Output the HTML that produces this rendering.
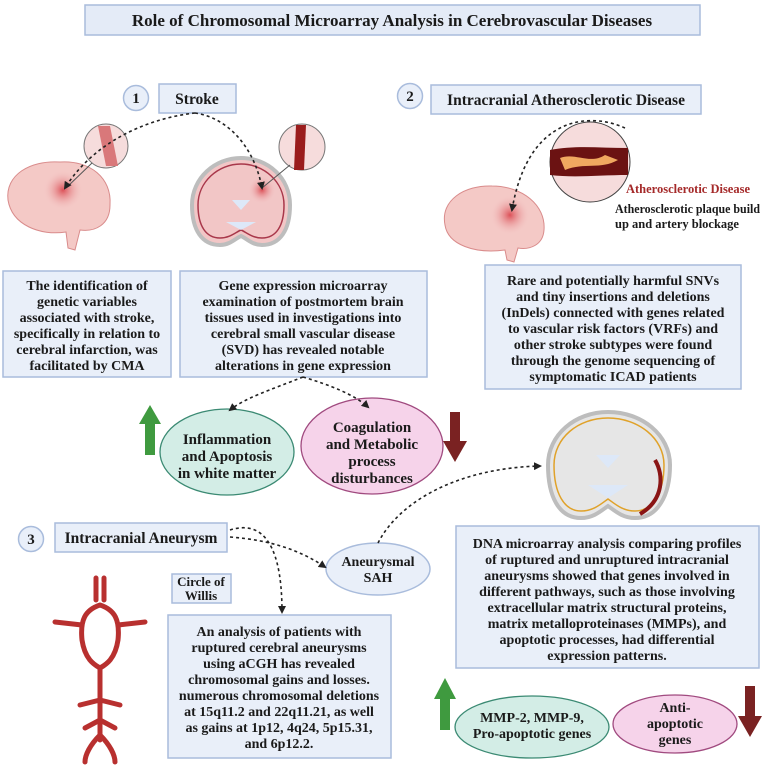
<!DOCTYPE html>
<html><head><meta charset="utf-8"><style>
html,body{margin:0;padding:0;background:#fff;}
svg{display:block}
text{font-family:"Liberation Serif",serif;font-weight:bold;fill:#1a1a1a;}
</style></head><body>
<svg width="765" height="765" viewBox="0 0 765 765" xmlns="http://www.w3.org/2000/svg">
<defs>
<radialGradient id="hot" cx="50%" cy="50%" r="50%"><stop offset="0" stop-color="#d9434b" stop-opacity="0.9"/><stop offset="1" stop-color="#f3c9c9" stop-opacity="0"/></radialGradient>
<marker id="ah" markerWidth="8" markerHeight="8" refX="6" refY="4" orient="auto" markerUnits="userSpaceOnUse"><path d="M0,0 L8,4 L0,8 z" fill="#222"/></marker>
</defs>
<g fill="#e9eff9" stroke="#a9bcdc" stroke-width="1.5">
<rect x="85" y="5" width="615" height="30" fill="#e4ebf7"/>
<rect x="159" y="84" width="77" height="29"/>
<rect x="431" y="85" width="270" height="29"/>
<rect x="3" y="271" width="168" height="106"/>
<rect x="180" y="271" width="247" height="106"/>
<rect x="485" y="265" width="256" height="124"/>
<rect x="55" y="523" width="172" height="29"/>
<rect x="172" y="574" width="59" height="29"/>
<rect x="168" y="615" width="223" height="143"/>
<rect x="456" y="526" width="303" height="142"/>
<circle cx="136" cy="98" r="12.5"/>
<circle cx="410" cy="96" r="12.5"/>
<circle cx="31" cy="539" r="12.5"/>
<ellipse cx="378" cy="569" rx="52" ry="26"/>
</g>
<text x="392" y="26" font-size="17" text-anchor="middle">Role of Chromosomal Microarray Analysis in Cerebrovascular Diseases</text>
<g font-size="15" text-anchor="middle">
<text x="136" y="103">1</text><text x="410" y="101">2</text><text x="31" y="544">3</text>
<text x="197" y="104" font-size="15.5">Stroke</text>
<text x="566" y="105" font-size="15.5">Intracranial Atherosclerotic Disease</text>
<text x="141" y="543" font-size="15.5">Intracranial Aneurysm</text>
</g>
<g font-size="14" text-anchor="middle">
<text x="87" y="290">The identification of</text><text x="87" y="306">genetic variables</text><text x="87" y="322">associated with stroke,</text><text x="87" y="338">specifically in relation to</text><text x="87" y="354">cerebral infarction, was</text><text x="87" y="370">facilitated by CMA</text>
<text x="303" y="290">Gene expression microarray</text><text x="303" y="306">examination of postmortem brain</text><text x="303" y="322">tissues used in investigations into</text><text x="303" y="338">cerebral small vascular disease</text><text x="303" y="354">(SVD) has revealed notable</text><text x="303" y="370">alterations in gene expression</text>
<text x="613" y="285">Rare and potentially harmful SNVs</text><text x="613" y="301">and tiny insertions and deletions</text><text x="613" y="317">(InDels) connected with genes related</text><text x="613" y="333">to vascular risk factors (VRFs) and</text><text x="613" y="349">other stroke subtypes were found</text><text x="613" y="365">through the genome sequencing of</text><text x="613" y="381">symptomatic ICAD patients</text>
<text x="279" y="636">An analysis of patients with</text><text x="279" y="652">ruptured cerebral aneurysms</text><text x="279" y="668">using aCGH has revealed</text><text x="279" y="684">chromosomal gains and losses.</text><text x="279" y="700">numerous chromosomal deletions</text><text x="279" y="716">at 15q11.2 and 22q11.21, as well</text><text x="279" y="732">as gains at 1p12, 4q24, 5p15.31,</text><text x="279" y="748">and 6p12.2.</text>
<text x="607" y="548">DNA microarray analysis comparing profiles</text><text x="607" y="564">of ruptured and unruptured intracranial</text><text x="607" y="580">aneurysms showed that genes involved in</text><text x="607" y="596">different pathways, such as those involving</text><text x="607" y="612">extracellular matrix structural proteins,</text><text x="607" y="628">matrix metalloproteinases (MMPs), and</text><text x="607" y="644">apoptotic processes, had differential</text><text x="607" y="660">expression patterns.</text>
<text x="201" y="586" font-size="13">Circle of</text><text x="201" y="600" font-size="13">Willis</text>
<text x="378" y="566">Aneurysmal</text><text x="378" y="582">SAH</text>
</g>
<ellipse cx="227" cy="452" rx="67" ry="43" fill="#d3ede6" stroke="#3b8a73" stroke-width="1.3"/>
<ellipse cx="372" cy="446" rx="71" ry="48" fill="#f6d3ea" stroke="#a04a7f" stroke-width="1.3"/>
<ellipse cx="532" cy="727" rx="77" ry="31" fill="#d3ede6" stroke="#3b8a73" stroke-width="1.3"/>
<ellipse cx="675" cy="724" rx="62" ry="29" fill="#f6d3ea" stroke="#a04a7f" stroke-width="1.3"/>
<g font-size="15" text-anchor="middle">
<text x="227" y="444">Inflammation</text><text x="227" y="461">and Apoptosis</text><text x="227" y="478">in white matter</text>
<text x="372" y="432">Coagulation</text><text x="372" y="449">and Metabolic</text><text x="372" y="466">process</text><text x="372" y="483">disturbances</text>
<text x="532" y="722" font-size="14">MMP-2, MMP-9,</text><text x="532" y="738" font-size="14">Pro-apoptotic genes</text>
<text x="675" y="712" font-size="14">Anti-</text><text x="675" y="728" font-size="14">apoptotic</text><text x="675" y="744" font-size="14">genes</text>
</g>
<path d="M145,455 V424 H139 L150,405 L161,424 H155 V455 Z" fill="#3f9a3f"/>
<path d="M440,730 V699 H434 L445,678 L456,699 H450 V730 Z" fill="#3f9a3f"/>
<path d="M450,412 V441 H443 L455,462 L467,441 H460 V412 Z" fill="#7a2222"/>
<path d="M745,686 V716 H738 L750,737 L762,716 H755 V686 Z" fill="#7a2222"/>
<text x="626" y="193" font-size="13" textLength="124" lengthAdjust="spacingAndGlyphs" style="fill:#a52a2a">Atherosclerotic Disease</text>
<text x="615" y="213" font-size="12.5" textLength="145" lengthAdjust="spacingAndGlyphs">Atherosclerotic plaque build</text>
<text x="615" y="228" font-size="12.5">up and artery blockage</text>
<g>
<path d="M8,200 C5,175 30,160 60,162 C90,160 112,178 110,205 C110,225 95,232 80,230 L75,250 L68,248 L66,232 C40,236 12,225 8,200Z" fill="#f4c9c6" stroke="#d98b8b" stroke-width="1"/>
<circle cx="63" cy="190" r="20" fill="url(#hot)"/>
<path d="M445,225 C440,200 465,185 492,186 C522,186 546,205 544,230 C543,245 530,250 518,248 L514,262 L507,260 L505,250 C475,254 448,245 445,225Z" fill="#f4c9c6" stroke="#d98b8b" stroke-width="1"/>
<circle cx="510" cy="215" r="20" fill="url(#hot)"/>
</g>
<g>
<path d="M192,205 C192,178 215,158 241,158 C268,158 290,178 290,205 C290,230 280,245 262,245 C252,245 246,238 241,236 C236,238 230,245 220,245 C202,245 192,230 192,205Z" fill="#f2c6c6" stroke="#bdbdbd" stroke-width="4"/>
<path d="M198,205 C198,182 218,164 241,164 C264,164 284,182 284,205 C284,226 276,238 262,238 C252,238 246,232 241,230 C236,232 230,238 220,238 C206,238 198,226 198,205Z" fill="none" stroke="#a8374a" stroke-width="1.5"/>
<circle cx="262" cy="190" r="14" fill="url(#hot)"/>
<path d="M232,200 L250,200 L241,210Z M226,222 L256,222 L241,230Z" fill="#dde8f8"/>
<path d="M548,465 C548,435 575,412 608,412 C642,412 670,435 670,465 C670,495 658,518 635,518 C622,518 614,510 608,506 C602,510 594,518 581,518 C558,518 548,495 548,465Z" fill="#e6e6e6" stroke="#bdbdbd" stroke-width="4"/>
<path d="M554,465 C554,438 578,418 608,418 C638,418 664,438 664,465 C664,493 652,511 635,511 C622,511 614,503 608,499 C602,503 594,511 581,511 C564,511 554,493 554,465Z" fill="none" stroke="#e0a22a" stroke-width="1.5"/>
<path d="M655,460 C664,475 664,500 640,514" fill="none" stroke="#8a1515" stroke-width="4"/>
<path d="M596,455 L620,455 L608,468Z M588,485 L628,485 L608,498Z" fill="#dde8f8"/>
</g>
<circle cx="106" cy="146" r="22" fill="#f6dcdc" stroke="#777" stroke-width="1"/>
<path d="M98,126 L110,126 L118,166 L106,166Z" fill="#d9787a"/>
<circle cx="302" cy="147" r="23" fill="#f6dcdc" stroke="#777" stroke-width="1"/>
<path d="M296,125 L306,125 L304,170 L294,170Z" fill="#9a1c1c"/>
<line x1="290" y1="165" x2="262" y2="188" stroke="#555"/>
<line x1="92" y1="163" x2="66" y2="188" stroke="#555"/>
<circle cx="590" cy="162" r="40" fill="#f6dcdc" stroke="#444" stroke-width="1"/>
<path d="M550,150 C575,145 600,148 628,148 L628,175 C600,175 575,178 550,175Z" fill="#6b1212"/>
<path d="M560,158 C575,152 590,165 605,155 L618,160 C600,170 585,162 565,170Z" fill="#f0a860"/>
<g fill="none" stroke="#b8302f" stroke-width="5" stroke-linecap="round">
<path d="M96,578 V600 M104,578 V600"/>
<path d="M100,605 C85,610 80,620 82,640 C85,660 95,665 100,668 C105,665 115,660 118,640 C120,620 115,610 100,605"/>
<path d="M82,625 L55,622 M118,625 L145,622"/>
<path d="M100,668 V740 M100,700 L80,705 M100,700 L120,705 M100,720 L85,728 M100,720 L115,728"/>
<path d="M100,735 C90,745 85,755 85,762 M100,735 C110,745 115,755 115,762"/>
</g>
<g fill="none" stroke="#222" stroke-width="1.6" stroke-dasharray="3,3" marker-end="url(#ah)">
<path d="M195,113 C150,118 95,140 65,188"/>
<path d="M195,113 C230,118 255,150 262,188"/>
<path d="M625,128 C590,112 528,115 512,210"/>
<path d="M303,377 C270,390 245,398 230,410"/>
<path d="M303,377 C330,385 355,395 368,407"/>
<path d="M230,530 C255,522 282,532 282,612"/>
<path d="M230,537 C270,540 300,550 325,567"/>
<path d="M378,543 C400,500 460,468 540,466"/>
</g>
</svg>
</body></html>
